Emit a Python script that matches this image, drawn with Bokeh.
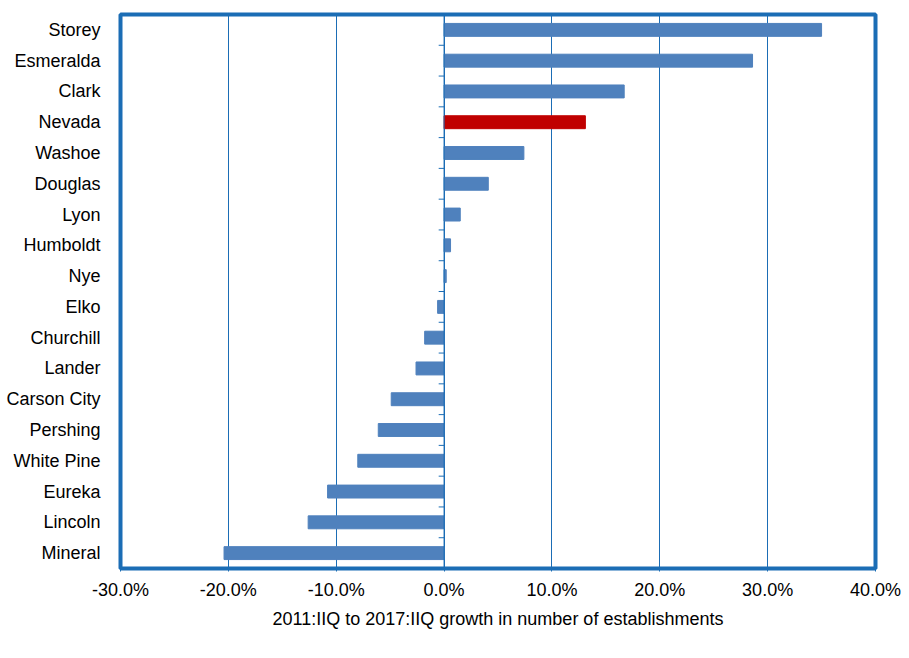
from bokeh.plotting import figure
from bokeh.models import ColumnDataSource, FixedTicker, NumeralTickFormatter, Span
from bokeh.embed import file_html
from bokeh.resources import INLINE

counties = ["Storey", "Esmeralda", "Clark", "Nevada", "Washoe", "Douglas", "Lyon",
            "Humboldt", "Nye", "Elko", "Churchill", "Lander", "Carson City",
            "Pershing", "White Pine", "Eureka", "Lincoln", "Mineral"]
growth = [0.350, 0.286, 0.167, 0.131, 0.074, 0.041, 0.015, 0.006, 0.002, -0.006,
          -0.018, -0.026, -0.049, -0.061, -0.080, -0.108, -0.126, -0.204]
highlight = "Nevada"
x_ticks = [-0.3, -0.2, -0.1, 0.0, 0.1, 0.2, 0.3, 0.4]

BLUE = "#4f81bd"
RED = "#c00000"
FRAME = "#1b6db5"

n = len(counties)
ypos = [n - 1 - i for i in range(n)]
colors = [RED if c == highlight else BLUE for c in counties]
src = ColumnDataSource(dict(y=ypos, right=growth, color=colors, name=counties))

p = figure(width=901, height=650, output_backend="svg", toolbar_location=None,
           x_range=(x_ticks[0], x_ticks[-1]), y_range=(-0.5, n - 0.5),
           min_border_left=120, min_border_right=26, min_border_top=14,
           min_border_bottom=82)

p.hbar(y="y", left=0, right="right", height=0.42, color="color", source=src)

# zero axis line with category-boundary ticks
p.add_layout(Span(location=0, dimension="height", line_color=FRAME, line_width=1))
bounds = [b - 0.5 for b in range(1, n)]
p.segment(x0=[-0.005] * len(bounds), x1=[0] * len(bounds), y0=bounds, y1=bounds,
          line_color=FRAME, line_width=1)

p.outline_line_color = FRAME
p.outline_line_width = 4
p.background_fill_color = "white"
p.border_fill_color = "white"

p.xgrid.ticker = FixedTicker(ticks=x_ticks)
p.xgrid.grid_line_color = FRAME
p.xgrid.grid_line_width = 1
p.ygrid.visible = False

xa = p.xaxis[0]
xa.ticker = FixedTicker(ticks=x_ticks)
xa.formatter = NumeralTickFormatter(format="0.0%")
xa.axis_line_color = None
xa.major_tick_line_color = FRAME
xa.major_tick_out = 3
xa.major_tick_in = 0
xa.minor_tick_line_color = None
xa.major_label_text_font = "Liberation Sans"
xa.major_label_text_font_size = "18px"
xa.major_label_text_color = "black"
xa.major_label_standoff = 8
xa.axis_label = "2011:IIQ to 2017:IIQ growth in number of establishments"
xa.axis_label_text_font = "Liberation Sans"
xa.axis_label_text_font_size = "18px"
xa.axis_label_text_font_style = "normal"
xa.axis_label_text_color = "black"
xa.axis_label_standoff = 6

ya = p.yaxis[0]
ya.ticker = FixedTicker(ticks=ypos)
ya.major_label_overrides = {y: c for y, c in zip(ypos, counties)}
ya.axis_line_color = None
ya.major_tick_line_color = None
ya.minor_tick_line_color = None
ya.major_tick_out = 0
ya.major_label_standoff = 20
ya.major_label_text_font = "Liberation Sans"
ya.major_label_text_font_size = "18px"
ya.major_label_text_color = "black"

open("out.html", "w").write(file_html(p, INLINE))
